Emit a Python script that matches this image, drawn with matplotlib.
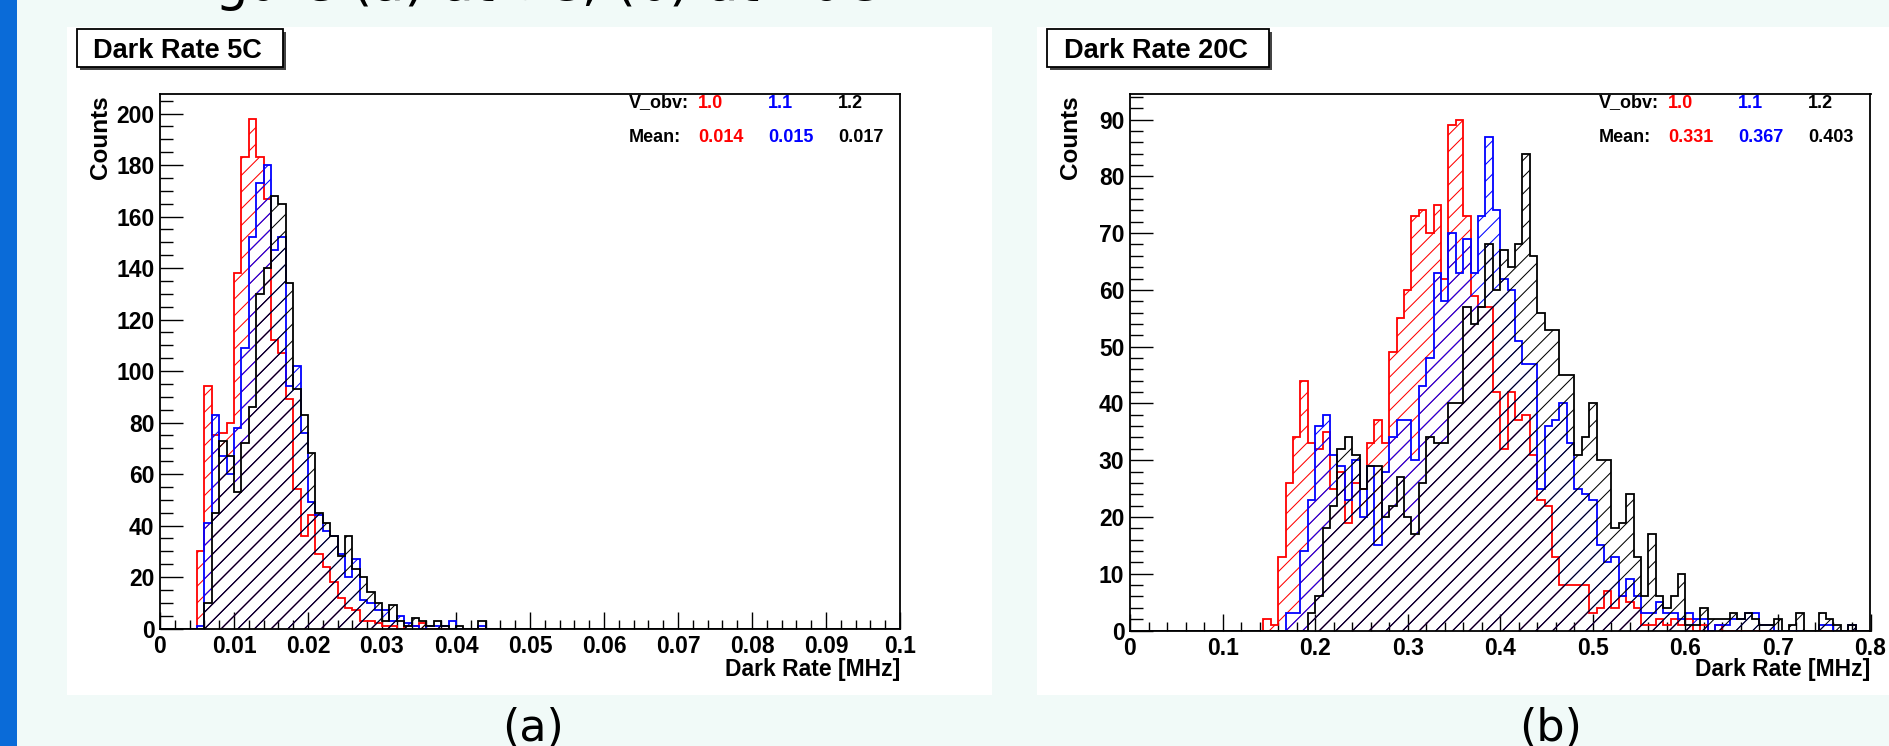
import matplotlib
matplotlib.use("Agg")
import matplotlib.pyplot as plt
import numpy as np
from matplotlib.patches import Rectangle
from matplotlib.ticker import MultipleLocator, FixedLocator, FixedFormatter

W, H = 1890, 746

# ---------------- data ----------------
# Panel (a): Dark Rate 5C, 100 bins of 0.001 MHz from 0 to 0.1
edges_5C = np.linspace(0.0, 0.1, 101)
start_5C_v10 = 5
counts_5C_v10 = [30, 94, 75, 76, 80, 138, 183, 198, 183, 167, 112, 107, 89, 54, 36,
                 44, 29, 24, 18, 12, 8, 7, 3, 3, 2, 1, 1, 0, 1, 1, 2]
start_5C_v11 = 5
counts_5C_v11 = [1, 41, 83, 67, 60, 78, 109, 152, 173, 180, 147, 152, 94, 102, 76,
                 49, 44, 38, 36, 29, 20, 27, 11, 10, 7, 7, 3, 5, 2, 1, 0, 1, 1, 1, 3,
                 0, 0, 0, 1]
start_5C_v12 = 6
counts_5C_v12 = [10, 45, 73, 67, 53, 72, 86, 130, 140, 168, 165, 134, 93, 83, 68,
                 45, 41, 36, 28, 36, 23, 20, 14, 10, 3, 9, 3, 1, 4, 3, 1, 3, 1, 0, 1,
                 0, 0, 3]

# Panel (b): Dark Rate 20C, 100 bins of 0.008 MHz from 0 to 0.8
edges_20C = np.linspace(0.0, 0.8, 101)
start_20C_v10 = 18
counts_20C_v10 = [2, 1, 13, 26, 34, 44, 33, 32, 35, 25, 28, 19, 26, 25, 33, 37, 33,
                  49, 55, 60, 73, 74, 70, 75, 62, 89, 90, 73, 59, 57, 57, 42, 32, 42,
                  37, 38, 31, 23, 22, 13, 8, 8, 8, 8, 3, 4, 7, 4, 6, 5, 4, 1, 1, 2,
                  1, 2, 1, 2, 0, 1, 0, 1]
start_20C_v11 = 21
counts_20C_v11 = [3, 3, 14, 23, 36, 38, 31, 29, 23, 30, 20, 29, 15, 28, 34, 37, 37,
                  30, 43, 48, 63, 58, 70, 63, 69, 63, 73, 87, 74, 62, 60, 51, 47, 47,
                  25, 36, 37, 40, 33, 25, 24, 23, 15, 12, 13, 6, 9, 6, 3, 3, 5, 3, 3,
                  2, 3, 2, 2, 0, 1, 1, 2, 2, 3, 3, 1, 1, 0, 0, 0, 0, 0, 0, 1, 1, 0,
                  0, 1]
start_20C_v12 = 24
counts_20C_v12 = [3, 6, 18, 22, 32, 34, 31, 25, 29, 29, 20, 22, 27, 20, 17, 26, 34,
                  33, 33, 40, 40, 57, 54, 57, 68, 60, 67, 64, 68, 84, 66, 56, 53, 53,
                  45, 45, 31, 34, 40, 30, 30, 18, 19, 24, 13, 6, 17, 6, 4, 6, 10, 1,
                  1, 4, 2, 2, 2, 3, 2, 3, 2, 1, 1, 2, 0, 1, 3, 0, 0, 3, 2, 1, 0, 1]

series_colors = ["#ff0000", "#0000ff", "#000000"]
v_obv_labels = ["1.0", "1.1", "1.2"]
mean_5C = ["0.014", "0.015", "0.017"]
mean_20C = ["0.331", "0.367", "0.403"]

xticks_5C = [0, 0.01, 0.02, 0.03, 0.04, 0.05, 0.06, 0.07, 0.08, 0.09, 0.1]
xticklabels_5C = ["0", "0.01", "0.02", "0.03", "0.04", "0.05", "0.06", "0.07", "0.08", "0.09", "0.1"]
xticks_20C = [0, 0.1, 0.2, 0.3, 0.4, 0.5, 0.6, 0.7, 0.8]
xticklabels_20C = ["0", "0.1", "0.2", "0.3", "0.4", "0.5", "0.6", "0.7", "0.8"]
yticks_5C = [0, 20, 40, 60, 80, 100, 120, 140, 160, 180, 200]
yticks_20C = [0, 10, 20, 30, 40, 50, 60, 70, 80, 90]

titles = ["Dark Rate 5C", "Dark Rate 20C"]
xlabel = "Dark Rate [MHz]"
ylabel = "Counts"
captions = ["(a)", "(b)"]
top_text = "Figure (a) at 5C, (b) at 20C"


def pad(start, vals, n=100):
    out = np.zeros(n)
    out[start:start + len(vals)] = vals
    return out


# ---------------- style ----------------
plt.rcParams["hatch.linewidth"] = 0.75
ROOTFONT = ["Liberation Sans", "DejaVu Sans"]
BG = "#f1faf8"

fig = plt.figure(figsize=(W / 100, H / 100), dpi=100)
fig.patch.set_facecolor(BG)


def fx(x):
    return x / W


def fy(y):
    return 1 - y / H


def rect_px(x0, y0, x1, y1, **kw):
    r = Rectangle((fx(x0), fy(y1)), (x1 - x0) / W, (y1 - y0) / H,
                  transform=fig.transFigure, **kw)
    fig.add_artist(r)
    return r


# left blue bar and white panels
rect_px(0, 0, 17, H, facecolor="#0a6bd8", edgecolor="none", zorder=0)
rect_px(67, 27, 992, 695, facecolor="white", edgecolor="none", zorder=0)
rect_px(1037, 27, W + 2, 695, facecolor="white", edgecolor="none", zorder=0)

# caption text cut off at the very top (only descenders show)
fig.text(fx(174), fy(0), top_text, fontsize=38, family="DejaVu Sans",
         ha="left", va="baseline", color="black")

panels = [
    dict(ax_px=(160, 94, 900, 628.5), ylim=207.6, edges=edges_5C,
         data=[(start_5C_v10, counts_5C_v10), (start_5C_v11, counts_5C_v11),
               (start_5C_v12, counts_5C_v12)],
         xlim=0.1, xmin=0.002, ymaj=20, ymin=5,
         xticks=xticks_5C, xtl=xticklabels_5C, yticks=yticks_5C,
         box=(76.7, 29, 283, 66.7), title_x=93, counts_x=101,
         leg_x=[629, 698, 768, 838], means=mean_5C, cap_x=533),
    dict(ax_px=(1130, 94, 1870.5, 630.5), ylim=94.5, edges=edges_20C,
         data=[(start_20C_v10, counts_20C_v10), (start_20C_v11, counts_20C_v11),
               (start_20C_v12, counts_20C_v12)],
         xlim=0.8, xmin=0.02, ymaj=10, ymin=2,
         xticks=xticks_20C, xtl=xticklabels_20C, yticks=yticks_20C,
         box=(1046.7, 29, 1269, 66.7), title_x=1064, counts_x=1071,
         leg_x=[1599, 1668, 1738, 1808], means=mean_20C, cap_x=1551),
]

for p, title, cap in zip(panels, titles, captions):
    x0, y0, x1, y1 = p["ax_px"]
    ax = fig.add_axes([fx(x0), fy(y1), (x1 - x0) / W, (y1 - y0) / H])
    ax.set_facecolor("white")
    for (start, vals), col, z in zip(p["data"], series_colors, [2, 3, 4]):
        ax.stairs(pad(start, vals), p["edges"], fill=True, facecolor="none",
                  edgecolor=col, hatch="//", linewidth=1.3, zorder=z)
    ax.set_xlim(0, p["xlim"])
    ax.set_ylim(0, p["ylim"])
    ax.xaxis.set_major_locator(FixedLocator(p["xticks"]))
    ax.xaxis.set_major_formatter(FixedFormatter(p["xtl"]))
    ax.xaxis.set_minor_locator(MultipleLocator(p["xmin"]))
    ax.yaxis.set_major_locator(FixedLocator(p["yticks"]))
    ax.yaxis.set_major_formatter(FixedFormatter([str(v) for v in p["yticks"]]))
    ax.yaxis.set_minor_locator(MultipleLocator(p["ymin"]))
    ax.tick_params(axis="x", which="major", direction="in", length=12.5, width=1.0,
                   pad=5, labelsize=16.5)
    ax.tick_params(axis="x", which="minor", direction="in", length=6.5, width=1.0)
    ax.tick_params(axis="y", which="major", direction="in", length=16.5, width=1.0,
                   pad=4, labelsize=16.5)
    ax.tick_params(axis="y", which="minor", direction="in", length=9, width=1.0)
    for lab in ax.get_xticklabels() + ax.get_yticklabels():
        lab.set_fontfamily(ROOTFONT)
        lab.set_fontweight("bold")
    for s in ax.spines.values():
        s.set_linewidth(1.3)
        s.set_zorder(6)

    # x label (right aligned) and y label (top aligned)
    fig.text(fx(x1), fy(676), xlabel, ha="right", va="baseline", fontsize=16.5,
             fontweight="bold", family=ROOTFONT)
    fig.text(fx(p["counts_x"]), fy(y0 + 1), ylabel, rotation=90, ha="center",
             va="top", fontsize=17.5, fontweight="bold", family=ROOTFONT)

    # title box with shadow
    bx0, by0, bx1, by1 = p["box"]
    rect_px(bx0 + 3, by0 + 3, bx1 + 3, by1 + 3, facecolor="#444444",
            edgecolor="none", zorder=1)
    rect_px(bx0, by0, bx1, by1, facecolor="white", edgecolor="black",
            linewidth=1.3, zorder=2)
    fig.text(fx(p["title_x"]), fy(58), title, ha="left", va="baseline",
             fontsize=19.5, fontweight="bold", family=ROOTFONT, zorder=3)

    # legend-like text
    lx = p["leg_x"]
    fig.text(fx(lx[0]), fy(103), "V_obv:", ha="left", va="center", fontsize=13,
             fontweight="bold", family=ROOTFONT)
    fig.text(fx(lx[0]), fy(137), "Mean:", ha="left", va="center", fontsize=13,
             fontweight="bold", family=ROOTFONT)
    for xx, v, m, col in zip(lx[1:], v_obv_labels, p["means"], series_colors):
        fig.text(fx(xx), fy(103), v, ha="left", va="center", fontsize=13,
                 fontweight="bold", family=ROOTFONT, color=col)
        fig.text(fx(xx), fy(137), m, ha="left", va="center", fontsize=13,
                 fontweight="bold", family=ROOTFONT, color=col)

    # caption below panel
    fig.text(fx(p["cap_x"]), fy(741), cap, ha="center", va="baseline",
             fontsize=32, family="DejaVu Sans", color="black")

fig.savefig("out.png", dpi=100, facecolor=fig.get_facecolor())
